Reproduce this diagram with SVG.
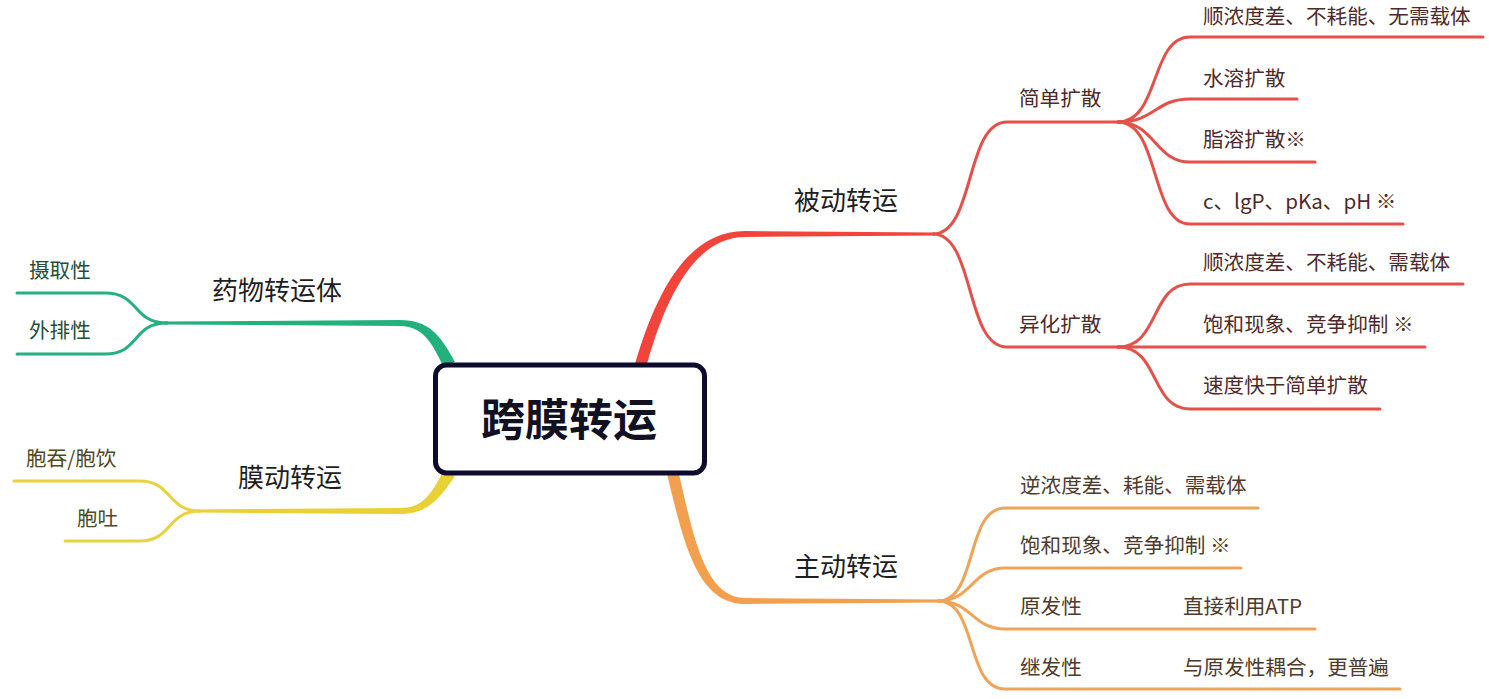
<svg xmlns="http://www.w3.org/2000/svg" width="1489" height="699" viewBox="0 0 1489 699">
<style>
text{font-family:"Noto Sans CJK SC","Noto Sans",sans-serif;}
.l1{font-size:26px;fill:#1e1e1e;}
.lf{font-size:20.6px;}
.tr{fill:#4f2a2a;}
.to{fill:#4f3b2b;}
.tg{fill:#1f4f3b;}
.ty{fill:#4f4a22;}
.r{fill:none;stroke:#e5514a;stroke-width:3;stroke-linecap:round;}
.o{fill:none;stroke:#f0a458;stroke-width:3;stroke-linecap:round;}
.g{fill:none;stroke:#25b07e;stroke-width:3;stroke-linecap:round;}
.y{fill:none;stroke:#e9d240;stroke-width:3;stroke-linecap:round;}
</style>
<rect width="1489" height="699" fill="#ffffff"/>
<g id="connectors">
  <path d="M635,364 C655,296 686,231 745,231 L935,232.5 L935,235.5 L745,237 C694,237 665,300 647,364 Z" fill="#f2443a"/>
  <path d="M667,474 C684,545 698,604 745,604 L940,602.5 L940,599.5 L745,598 C706,598 694,540 679,474 Z" fill="#f2a04e"/>
  <path d="M455,362 C440,334 428,320 400,320 L165,321.5 L165,324.5 L400,326 C422,326 432,342 443,366 Z" fill="#22b07c"/>
  <path d="M443,472 C430,496 422,508 400,508 L198,509.5 L198,512.5 L400,514 C428,514 440,498 455,476 Z" fill="#e8d035"/>
  <path class="r" d="M933,234 C975,234 965,122 1007,122 L1120,122"/>
  <path class="r" d="M933,234 C975,234 965,347 1007,347 L1120,347"/>
  <path class="r" d="M1118,122 C1160,122 1150,37 1190,37 L1483,37"/>
  <path class="r" d="M1118,122 C1155,122 1155,99 1190,99 L1297,99"/>
  <path class="r" d="M1118,122 C1155,122 1155,162 1190,162 L1315,162"/>
  <path class="r" d="M1118,122 C1160,122 1150,224 1190,224 L1403,224"/>
  <path class="r" d="M1118,347 C1160,347 1150,284 1190,284 L1463,284"/>
  <path class="r" d="M1118,347 L1425,347"/>
  <path class="r" d="M1118,347 C1160,347 1150,409 1190,409 L1380,409"/>
  <path class="o" d="M938,601 C978,601 965,508 1005,508 L1258,508"/>
  <path class="o" d="M938,601 C972,601 972,568 1005,568 L1241,568"/>
  <path class="o" d="M938,601 C972,601 972,629 1005,629 L1315,629"/>
  <path class="o" d="M938,601 C978,601 965,689 1005,689 L1400,689"/>
  <path class="g" d="M167,323 C132,323 140,293 105,293 L17,293"/>
  <path class="g" d="M167,323 C132,323 140,354 105,354 L17,354"/>
  <path class="y" d="M200,511 C167,511 172,481 140,481 L14,481"/>
  <path class="y" d="M200,511 C167,511 172,541 140,541 L65,541"/>
</g>
<g id="root">
  <rect x="435.5" y="365" width="269" height="108" rx="11" fill="#ffffff" stroke="#0e0c2c" stroke-width="5"/>
  <text x="569" y="436" font-size="44" font-weight="700" fill="#111122" text-anchor="middle">跨膜转运</text>
</g>
<g id="passive"><text class="l1" x="794" y="210">被动转运</text></g>
<g id="simple"><text class="lf tr" x="1019" y="106">简单扩散</text></g>
<g id="s1"><text class="lf tr" x="1203" y="24">顺浓度差、不耗能、无需载体</text></g>
<g id="s2"><text class="lf tr" x="1203" y="86">水溶扩散</text></g>
<g id="s3"><text class="lf tr" x="1203" y="147">脂溶扩散※</text></g>
<g id="s4"><text class="lf tr" x="1203" y="209">c、lgP、pKa、pH ※</text></g>
<g id="facil"><text class="lf tr" x="1019" y="332">异化扩散</text></g>
<g id="f1"><text class="lf tr" x="1203" y="270">顺浓度差、不耗能、需载体</text></g>
<g id="f2"><text class="lf tr" x="1203" y="332">饱和现象、竞争抑制 ※</text></g>
<g id="f3"><text class="lf tr" x="1203" y="393">速度快于简单扩散</text></g>
<g id="active"><text class="l1" x="794" y="576">主动转运</text></g>
<g id="a1"><text class="lf to" x="1020" y="493">逆浓度差、耗能、需载体</text></g>
<g id="a2"><text class="lf to" x="1020" y="553">饱和现象、竞争抑制 ※</text></g>
<g id="a3"><text class="lf to" x="1020" y="614">原发性</text><text class="lf to" x="1183" y="614">直接利用ATP</text></g>
<g id="a4"><text class="lf to" x="1020" y="675">继发性</text><text class="lf to" x="1183" y="675">与原发性耦合，更普遍</text></g>
<g id="carrier"><text class="l1" x="212" y="300">药物转运体</text></g>
<g id="c1"><text class="lf tg" x="29" y="278">摄取性</text></g>
<g id="c2"><text class="lf tg" x="29" y="338">外排性</text></g>
<g id="membrane"><text class="l1" x="238" y="487">膜动转运</text></g>
<g id="m1"><text class="lf ty" x="26" y="466">胞吞/胞饮</text></g>
<g id="m2"><text class="lf ty" x="77" y="526">胞吐</text></g>
</svg>
